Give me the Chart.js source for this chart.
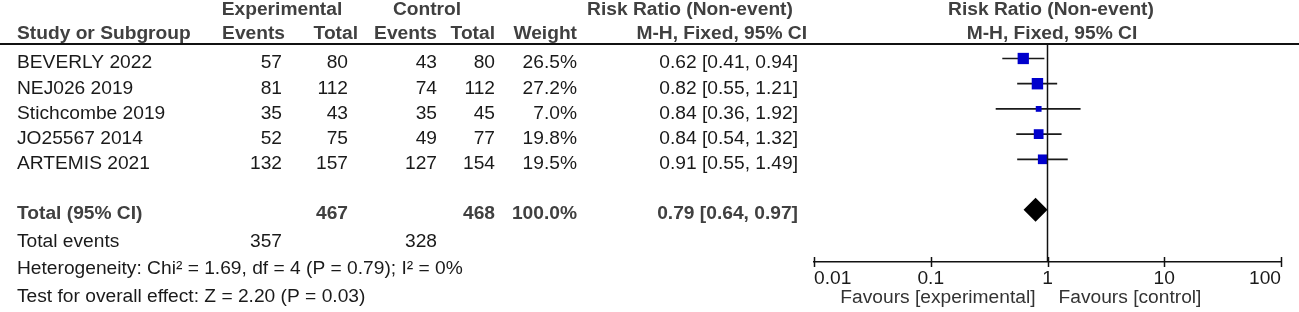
<!DOCTYPE html>
<html>
<head>
<meta charset="utf-8">
<script src="https://cdn.jsdelivr.net/npm/chart.js@4.4.0/dist/chart.umd.min.js"></script>
<style>
  html, body { margin: 0; padding: 0; background: #fff; }
  #wrap { width: 1299px; height: 312px; }
</style>
</head>
<body>
<div id="wrap"><canvas id="forest"></canvas></div>
<script>
// study data
const studies = ['BEVERLY 2022', 'NEJ026 2019', 'Stichcombe 2019', 'JO25567 2014', 'ARTEMIS 2021'];
const expEvents = [57, 81, 35, 52, 132];
const expTotal = [80, 112, 43, 75, 157];
const ctrlEvents = [43, 74, 35, 49, 127];
const ctrlTotal = [80, 112, 45, 77, 154];
const weights = [26.5, 27.2, 7.0, 19.8, 19.5];
const riskRatio = [0.62, 0.82, 0.84, 0.84, 0.91];
const ciLow = [0.41, 0.55, 0.36, 0.54, 0.55];
const ciHigh = [0.94, 1.21, 1.92, 1.32, 1.49];

// pooled result
const totalRR = 0.79, totalLow = 0.64, totalHigh = 0.97;
const totalExp = 467, totalCtrl = 468, totalWeight = 100.0;
const eventsExp = 357, eventsCtrl = 328;
const heterogeneity = 'Heterogeneity: Chi\u00b2 = 1.69, df = 4 (P = 0.79); I\u00b2 = 0%';
const overallEffect = 'Test for overall effect: Z = 2.20 (P = 0.03)';

// axis
const tickValues = [0.01, 0.1, 1, 10, 100];
const tickLabels = ['0.01', '0.1', '1', '10', '100'];
const favoursLeft = 'Favours [experimental]';
const favoursRight = 'Favours [control]';

const FONT = '"Liberation Sans", Arial, sans-serif';
const SIZE = 19.2;
const TOTAL_ROW = 6;

const ci = (lo, hi) => lo.toFixed(2) + ', ' + hi.toFixed(2);
const rrText = (r, lo, hi) => r.toFixed(2) + ' [' + ci(lo, hi) + ']';

// whiskers, one line dataset per study
const whiskers = studies.map((s, i) => ({
  type: 'line',
  data: [{ x: ciLow[i], y: i }, { x: ciHigh[i], y: i }],
  borderColor: '#1a1a1a',
  borderWidth: 1.7,
  pointRadius: 0,
  order: 2
}));

const squares = {
  type: 'scatter',
  data: studies.map((s, i) => ({ x: riskRatio[i], y: i })),
  pointStyle: 'rect',
  pointRadius: weights.map(w => Math.sqrt(w) * 1.55),
  backgroundColor: '#0000cc',
  borderWidth: 0,
  order: 1
};

const diamond = {
  type: 'scatter',
  data: [{ x: totalRR, y: TOTAL_ROW }],
  pointStyle: 'rectRot',
  pointRadius: 12,
  backgroundColor: '#000',
  borderWidth: 0,
  order: 1
};

const tablePlugin = {
  id: 'table',
  afterDraw(chart) {
    const ctx = chart.ctx;
    const xs = chart.scales.x, ys = chart.scales.y;
    const area = chart.chartArea;
    const bold = '700 ' + SIZE + 'px ' + FONT;
    const reg = '400 ' + SIZE + 'px ' + FONT;
    const put = (t, x, y, align, font, color) => {
      ctx.font = font;
      ctx.fillStyle = color;
      ctx.textAlign = align;
      ctx.textBaseline = 'alphabetic';
      ctx.fillText(t, x, y);
    };
    ctx.save();

    // header rule
    ctx.strokeStyle = '#111';
    ctx.lineWidth = 2;
    ctx.beginPath();
    ctx.moveTo(0, 44);
    ctx.lineTo(1299, 44);
    ctx.stroke();

    // line of no effect
    const x1 = xs.getPixelForValue(1);
    ctx.lineWidth = 1.5;
    ctx.beginPath();
    ctx.moveTo(x1, area.top);
    ctx.lineTo(x1, area.bottom);
    ctx.stroke();

    // tick marks crossing the axis
    tickValues.forEach(v => {
      const px = Math.round(xs.getPixelForValue(v)) + 0.5;
      ctx.beginPath();
      ctx.moveTo(px, area.bottom - 5);
      ctx.lineTo(px, area.bottom + 5);
      ctx.stroke();
    });

    // headers
    const hc = '#404040';
    put('Experimental', 282, 15, 'center', bold, hc);
    put('Control', 427, 15, 'center', bold, hc);
    put('Risk Ratio (Non-event)', 690, 15, 'center', bold, hc);
    put('Risk Ratio (Non-event)', 1051, 15, 'center', bold, hc);
    put('Study or Subgroup', 17, 39, 'left', bold, hc);
    put('Events', 285, 39, 'right', bold, hc);
    put('Total', 358, 39, 'right', bold, hc);
    put('Events', 437, 39, 'right', bold, hc);
    put('Total', 495, 39, 'right', bold, hc);
    put('Weight', 577, 39, 'right', bold, hc);
    put('M-H, Fixed, 95% CI', 807, 39, 'right', bold, hc);
    put('M-H, Fixed, 95% CI', 1052, 39, 'center', bold, hc);

    // study rows
    const tc = '#1a1a1a';
    studies.forEach((s, i) => {
      const y = ys.getPixelForValue(i) + 10;
      put(s, 17, y, 'left', reg, tc);
      put(String(expEvents[i]), 282, y, 'right', reg, tc);
      put(String(expTotal[i]), 348, y, 'right', reg, tc);
      put(String(ctrlEvents[i]), 437, y, 'right', reg, tc);
      put(String(ctrlTotal[i]), 495, y, 'right', reg, tc);
      put(weights[i].toFixed(1) + '%', 577, y, 'right', reg, tc);
      put(rrText(riskRatio[i], ciLow[i], ciHigh[i]), 798, y, 'right', reg, tc);
    });

    // pooled row
    const yt = ys.getPixelForValue(TOTAL_ROW) + 9.5;
    put('Total (95% CI)', 17, yt, 'left', bold, hc);
    put(String(totalExp), 348, yt, 'right', bold, hc);
    put(String(totalCtrl), 495, yt, 'right', bold, hc);
    put(totalWeight.toFixed(1) + '%', 577, yt, 'right', bold, hc);
    put(rrText(totalRR, totalLow, totalHigh), 798, yt, 'right', bold, hc);

    // footer
    put('Total events', 17, 247, 'left', reg, tc);
    put(String(eventsExp), 282, 247, 'right', reg, tc);
    put(String(eventsCtrl), 437, 247, 'right', reg, tc);
    put(heterogeneity, 17, 274, 'left', reg, tc);
    put(overallEffect, 17, 302, 'left', reg, tc);

    // favours labels
    put(favoursLeft, x1 - 12, 303, 'right', reg, '#333');
    put(favoursRight, x1 + 11, 303, 'left', reg, '#333');

    ctx.restore();
  }
};

new Chart(document.getElementById('forest'), {
  type: 'scatter',
  data: { datasets: [...whiskers, squares, diamond] },
  options: {
    responsive: true,
    maintainAspectRatio: false,
    animation: false,
    layout: { padding: { left: 814, right: 18, top: 44, bottom: 10 } },
    plugins: { legend: { display: false }, tooltip: { enabled: false } },
    scales: {
      x: {
        type: 'logarithmic',
        min: 0.01,
        max: 100,
        afterBuildTicks: axis => { axis.ticks = tickValues.map(v => ({ value: v })); },
        afterFit: axis => { axis.height = 40; },
        grid: { display: false, drawTicks: false },
        border: { display: true, color: '#111', width: 1.5 },
        ticks: {
          align: 'inner',
          padding: 5,
          maxRotation: 0,
          autoSkip: false,
          color: '#1a1a1a',
          font: { family: FONT, size: SIZE },
          callback: (v, i) => tickLabels[i]
        }
      },
      y: {
        display: false,
        reverse: true,
        min: -0.575,
        max: 8.075
      }
    }
  },
  plugins: [tablePlugin]
});
</script>
</body>
</html>
